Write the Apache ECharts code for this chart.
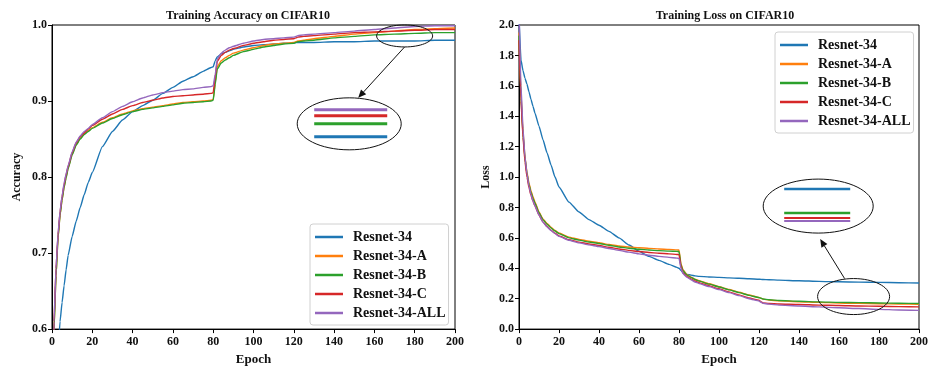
<!DOCTYPE html>
<html>
<head>
<meta charset="utf-8">
<script src="https://cdn.jsdelivr.net/npm/echarts@6/dist/echarts.min.js"></script>
<style>
  html, body { margin: 0; padding: 0; background: #fff; }
  #main { width: 931px; height: 371px; }
</style>
</head>
<body>
<div id="main"></div>
<script>
var seriesNames = ['Resnet-34', 'Resnet-34-A', 'Resnet-34-B', 'Resnet-34-C', 'Resnet-34-ALL'];
var colors = ['#1f77b4', '#ff7f0e', '#2ca02c', '#d62728', '#9467bd'];

var epochs = [0, 1, 2, 3, 4, 5, 6, 7, 8, 10, 12, 14, 16, 18, 20, 25, 30, 35, 40, 45, 50, 55, 60, 65, 70, 75, 79, 80,
  81, 82, 84, 86, 88, 90, 95, 100, 105, 110, 115, 120, 121, 122, 125, 130, 140, 150, 160, 170, 180, 190, 200];

// training accuracy
var accResnet34 = [0.40, 0.46, 0.52, 0.57, 0.61, 0.635, 0.657, 0.678, 0.697, 0.722, 0.742, 0.76, 0.777, 0.793, 0.806, 0.84, 0.86, 0.875, 0.886, 0.894, 0.901, 0.91, 0.918, 0.926, 0.932, 0.939, 0.944, 0.945,
  0.953, 0.958, 0.962, 0.964, 0.966, 0.968, 0.971, 0.973, 0.974, 0.975, 0.976, 0.976, 0.977, 0.977, 0.977, 0.977, 0.978, 0.978, 0.979, 0.979, 0.979, 0.98, 0.98];
var accResnet34A = [0.45, 0.60, 0.67, 0.72, 0.75, 0.77, 0.787, 0.80, 0.812, 0.83, 0.843, 0.851, 0.857, 0.861, 0.865, 0.872, 0.878, 0.883, 0.887, 0.89, 0.892, 0.894, 0.896, 0.898, 0.899, 0.90, 0.901, 0.902,
  0.925, 0.945, 0.953, 0.957, 0.96, 0.963, 0.967, 0.97, 0.973, 0.975, 0.976, 0.977, 0.978, 0.979, 0.98, 0.982, 0.985, 0.988, 0.99, 0.992, 0.994, 0.995, 0.996];
var accResnet34B = [0.45, 0.60, 0.67, 0.72, 0.75, 0.77, 0.786, 0.799, 0.811, 0.829, 0.842, 0.85, 0.856, 0.86, 0.864, 0.871, 0.877, 0.882, 0.886, 0.889, 0.891, 0.893, 0.895, 0.897, 0.898, 0.899, 0.90, 0.901,
  0.922, 0.942, 0.95, 0.954, 0.957, 0.96, 0.965, 0.968, 0.971, 0.973, 0.975, 0.976, 0.977, 0.978, 0.979, 0.98, 0.983, 0.985, 0.987, 0.988, 0.989, 0.99, 0.99];
var accResnet34C = [0.46, 0.61, 0.68, 0.724, 0.754, 0.774, 0.79, 0.803, 0.814, 0.832, 0.845, 0.853, 0.858, 0.863, 0.868, 0.876, 0.883, 0.889, 0.894, 0.898, 0.901, 0.904, 0.906, 0.907, 0.908, 0.909, 0.91, 0.911,
  0.932, 0.952, 0.96, 0.964, 0.967, 0.969, 0.973, 0.976, 0.978, 0.98, 0.981, 0.982, 0.983, 0.984, 0.985, 0.986, 0.988, 0.99, 0.991, 0.992, 0.993, 0.994, 0.994];
var accResnet34ALL = [0.46, 0.61, 0.68, 0.725, 0.755, 0.775, 0.792, 0.804, 0.815, 0.833, 0.846, 0.854, 0.86, 0.864, 0.869, 0.878, 0.886, 0.893, 0.899, 0.904, 0.908, 0.911, 0.913, 0.915, 0.916, 0.918, 0.919, 0.92,
  0.935, 0.955, 0.963, 0.967, 0.97, 0.972, 0.976, 0.979, 0.981, 0.982, 0.983, 0.984, 0.985, 0.986, 0.987, 0.988, 0.99, 0.992, 0.994, 0.996, 0.998, 0.999, 0.999];

// training loss
var lossResnet34 = [2.05, 1.77, 1.70, 1.65, 1.61, 1.56, 1.51, 1.465, 1.42, 1.335, 1.245, 1.16, 1.08, 1.00, 0.935, 0.835, 0.77, 0.72, 0.683, 0.643, 0.60, 0.553, 0.512, 0.478, 0.452, 0.426, 0.406, 0.40,
  0.385, 0.37, 0.36, 0.355, 0.35, 0.347, 0.343, 0.34, 0.337, 0.334, 0.331, 0.328, 0.327, 0.326, 0.325, 0.322, 0.318, 0.314, 0.311, 0.309, 0.307, 0.305, 0.303];
var lossResnet34A = [1.95, 1.55, 1.30, 1.13, 1.03, 0.96, 0.91, 0.87, 0.835, 0.77, 0.725, 0.695, 0.67, 0.648, 0.632, 0.605, 0.59, 0.578, 0.568, 0.556, 0.547, 0.54, 0.535, 0.531, 0.527, 0.524, 0.521, 0.52,
  0.43, 0.39, 0.358, 0.342, 0.328, 0.318, 0.298, 0.279, 0.26, 0.242, 0.224, 0.208, 0.203, 0.197, 0.191, 0.186, 0.18, 0.176, 0.172, 0.169, 0.167, 0.165, 0.163];
var lossResnet34B = [1.93, 1.52, 1.28, 1.12, 1.02, 0.95, 0.90, 0.86, 0.828, 0.765, 0.72, 0.69, 0.665, 0.645, 0.628, 0.60, 0.585, 0.573, 0.563, 0.551, 0.54, 0.532, 0.525, 0.52, 0.516, 0.513, 0.511, 0.51,
  0.42, 0.385, 0.355, 0.34, 0.326, 0.316, 0.296, 0.277, 0.258, 0.24, 0.222, 0.207, 0.203, 0.198, 0.193, 0.188, 0.183, 0.179, 0.176, 0.174, 0.172, 0.17, 0.168];
var lossResnet34C = [1.90, 1.50, 1.26, 1.10, 1.00, 0.93, 0.88, 0.84, 0.81, 0.75, 0.705, 0.675, 0.65, 0.63, 0.613, 0.588, 0.572, 0.56, 0.55, 0.538, 0.527, 0.518, 0.51, 0.504, 0.499, 0.495, 0.491, 0.49,
  0.41, 0.37, 0.345, 0.33, 0.316, 0.305, 0.285, 0.265, 0.245, 0.225, 0.205, 0.19, 0.18, 0.172, 0.168, 0.165, 0.162, 0.158, 0.155, 0.152, 0.15, 0.148, 0.146];
var lossResnet34ALL = [2.10, 1.60, 1.32, 1.13, 1.02, 0.94, 0.885, 0.843, 0.81, 0.75, 0.703, 0.672, 0.648, 0.628, 0.61, 0.584, 0.567, 0.554, 0.543, 0.53, 0.518, 0.506, 0.495, 0.486, 0.478, 0.472, 0.467, 0.465,
  0.40, 0.365, 0.34, 0.325, 0.31, 0.30, 0.28, 0.26, 0.24, 0.22, 0.20, 0.185, 0.177, 0.17, 0.164, 0.158, 0.152, 0.146, 0.14, 0.135, 0.13, 0.126, 0.123];

var accData = [accResnet34, accResnet34A, accResnet34B, accResnet34C, accResnet34ALL];
var lossData = [lossResnet34, lossResnet34A, lossResnet34B, lossResnet34C, lossResnet34ALL];

var fontFamily = '"Liberation Serif", "DejaVu Serif", serif';

function pairs(values) {
  var out = [];
  for (var i = 0; i < values.length; i++) {
    out.push([epochs[i], values[i]]);
  }
  return out;
}

function makeXAxis(gridIndex) {
  return {
    type: 'value', gridIndex: gridIndex, min: 0, max: 200, interval: 20,
    name: 'Epoch', nameLocation: 'middle', nameGap: 20,
    nameTextStyle: { fontFamily: fontFamily, fontWeight: 'bold', fontSize: 13, color: '#111' },
    axisLine: { show: true, onZero: false, lineStyle: { color: '#000', width: 1 } },
    axisTick: { show: true, inside: false, length: 4, lineStyle: { color: '#000' } },
    axisLabel: { fontFamily: fontFamily, fontWeight: 'bold', fontSize: 12, color: '#111', margin: 7 },
    splitLine: { show: false }
  };
}

function makeYAxis(gridIndex, name, min, max, interval, nameGap) {
  return {
    type: 'value', gridIndex: gridIndex, min: min, max: max, interval: interval,
    name: name, nameLocation: 'middle', nameGap: nameGap, nameRotate: 90,
    nameTextStyle: { fontFamily: fontFamily, fontWeight: 'bold', fontSize: 12, color: '#111' },
    axisLine: { show: true, onZero: false, lineStyle: { color: '#000', width: 1 } },
    axisTick: { show: true, inside: false, length: 4, lineStyle: { color: '#000' } },
    axisLabel: {
      fontFamily: fontFamily, fontWeight: 'bold', fontSize: 12, color: '#111', margin: 5,
      formatter: function (v) { return v.toFixed(1); }
    },
    splitLine: { show: false }
  };
}

function makeLegend(left, top) {
  return {
    orient: 'vertical', left: left, top: top,
    data: seriesNames,
    icon: 'rect',
    itemWidth: 28, itemHeight: 2.5, itemGap: 5,
    padding: [6, 3, 5, 5],
    borderColor: '#d0d0d0', borderWidth: 1, borderRadius: 3,
    backgroundColor: 'rgba(255,255,255,0.85)',
    textStyle: { fontFamily: fontFamily, fontWeight: 'bold', fontSize: 14, color: '#111', padding: [0, 0, 0, 5] },
    selectedMode: false
  };
}

var option = {
  animation: false,
  backgroundColor: '#fff',
  color: colors,
  title: [
    { text: 'Training Accuracy on CIFAR10', left: 243, top: 5, textAlign: 'center',
      textStyle: { fontFamily: fontFamily, fontWeight: 'bold', fontSize: 12, color: '#111' } },
    { text: 'Training Loss on CIFAR10', left: 720, top: 5, textAlign: 'center',
      textStyle: { fontFamily: fontFamily, fontWeight: 'bold', fontSize: 12, color: '#111' } }
  ],
  legend: [makeLegend(310, 224), makeLegend(775, 32)],
  grid: [
    { left: 52, right: 476, top: 25, bottom: 40, show: true, borderColor: '#000', borderWidth: 1 },
    { left: 519, right: 9, top: 25, bottom: 40, show: true, borderColor: '#000', borderWidth: 1 }
  ],
  xAxis: [makeXAxis(0), makeXAxis(1)],
  yAxis: [makeYAxis(0, 'Accuracy', 0.6, 1.0, 0.1, 29), makeYAxis(1, 'Loss', 0, 2.0, 0.2, 27)],
  series: []
};

for (var s = 0; s < seriesNames.length; s++) {
  option.series.push({
    name: seriesNames[s], type: 'line', xAxisIndex: 0, yAxisIndex: 0,
    showSymbol: false, symbol: 'none', clip: true, smooth: 0.15, smoothMonotone: 'x',
    lineStyle: { width: 1.4, color: colors[s] },
    data: pairs(accData[s])
  });
  option.series.push({
    name: seriesNames[s], type: 'line', xAxisIndex: 1, yAxisIndex: 1,
    showSymbol: false, symbol: 'none', clip: true, smooth: 0.15, smoothMonotone: 'x',
    lineStyle: { width: 1.4, color: colors[s] },
    data: pairs(lossData[s])
  });
}

var chart = echarts.init(document.getElementById('main'), null, { renderer: 'canvas' });
chart.setOption(option);

// zoom-in annotations (ellipses, arrows, magnified lines)
function px(gridIndex, x, y) {
  return chart.convertToPixel({ gridIndex: gridIndex }, [x, y]);
}

function ellipse(c, rx, ry) {
  return { type: 'ellipse', shape: { cx: c[0], cy: c[1], rx: rx, ry: ry },
    style: { fill: 'none', stroke: '#111', lineWidth: 1 }, z: 100 };
}

function arrow(from, to) {
  var dx = to[0] - from[0], dy = to[1] - from[1];
  var len = Math.sqrt(dx * dx + dy * dy);
  var ux = dx / len, uy = dy / len;
  var hl = 8, hw = 3.5;
  var bx = to[0] - ux * hl, by = to[1] - uy * hl;
  return [
    { type: 'line', shape: { x1: from[0], y1: from[1], x2: bx, y2: by },
      style: { stroke: '#111', lineWidth: 1 }, z: 100 },
    { type: 'polygon', shape: { points: [to, [bx - uy * hw, by + ux * hw], [bx + uy * hw, by - ux * hw]] },
      style: { fill: '#111' }, z: 100 }
  ];
}

function insetLine(x1, x2, y, color, width) {
  return { type: 'line', shape: { x1: x1, y1: y, x2: x2, y2: y },
    style: { stroke: color, lineWidth: width }, z: 101 };
}

var els = [];
// left chart
var lSmall = px(0, 175, 0.9856);
var lBig = px(0, 147.5, 0.870);
els.push(ellipse(lSmall, 28, 11));
els.push(ellipse(lBig, 52, 26));
els = els.concat(arrow([lSmall[0], lSmall[1] + 11], [lBig[0] + 9, lBig[1] - 26]));
els.push(insetLine(lBig[0] - 35, lBig[0] + 38, lBig[1] - 14, colors[4], 3));
els.push(insetLine(lBig[0] - 35, lBig[0] + 38, lBig[1] - 8, colors[3], 3));
els.push(insetLine(lBig[0] - 35, lBig[0] + 38, lBig[1], colors[2], 3));
els.push(insetLine(lBig[0] - 35, lBig[0] + 38, lBig[1] + 13, colors[0], 3));
// right chart
var rSmall = px(1, 167.3, 0.214);
var rBig = px(1, 149.6, 0.809);
els.push(ellipse(rSmall, 36, 18));
els.push(ellipse(rBig, 55, 27));
els = els.concat(arrow([rSmall[0] - 9, rSmall[1] - 18], [rBig[0] + 2, rBig[1] + 33]));
els.push(insetLine(rBig[0] - 34, rBig[0] + 32, rBig[1] - 17, colors[0], 2.5));
els.push(insetLine(rBig[0] - 34, rBig[0] + 32, rBig[1] + 7, colors[2], 2.5));
els.push(insetLine(rBig[0] - 34, rBig[0] + 32, rBig[1] + 12, colors[3], 2));
els.push(insetLine(rBig[0] - 34, rBig[0] + 32, rBig[1] + 15, colors[4], 2));

chart.setOption({ graphic: { elements: els } });
</script>
</body>
</html>
